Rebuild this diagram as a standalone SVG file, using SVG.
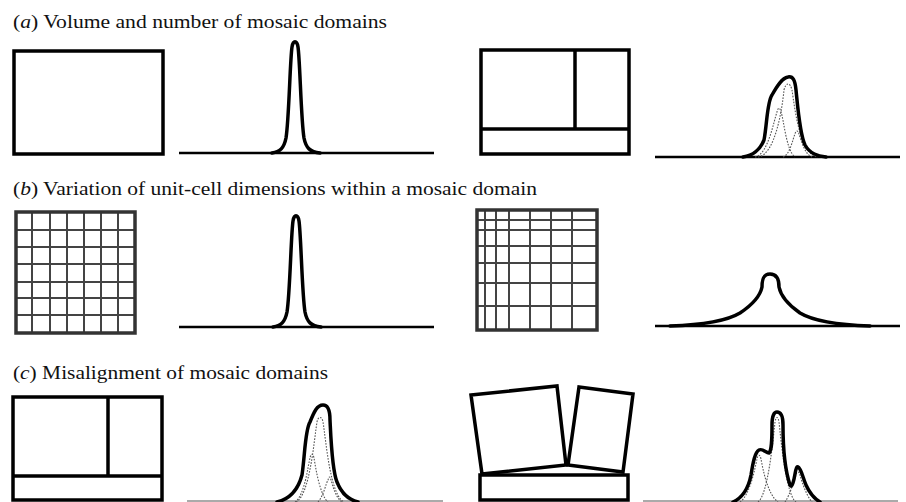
<svg xmlns="http://www.w3.org/2000/svg" width="906" height="502" viewBox="0 0 906 502">
<style>
.t{font-family:"Liberation Serif","Times New Roman",serif;font-size:19.5px;fill:#111}
.box{fill:none;stroke:#000;stroke-width:3.5;stroke-linejoin:miter}
.grid{fill:none;stroke:#444;stroke-width:2}
.gout{fill:none;stroke:#333;stroke-width:3.5}
.base{fill:none;stroke:#000;stroke-width:2.5}
.faint{fill:none;stroke:#aaa;stroke-width:2}
.pk{fill:none;stroke:#000;stroke-width:3.5;stroke-linejoin:round;stroke-linecap:round}
.dot{fill:none;stroke:#555;stroke-width:1.1;stroke-dasharray:1.6 1.4}
</style>
<rect width="906" height="502" fill="#fff"/>
<g id="labels">
<text class="t" x="13" y="28" textLength="374" lengthAdjust="spacingAndGlyphs">(<tspan font-style="italic">a</tspan>) Volume and number of mosaic domains</text>
<text class="t" x="13" y="195" textLength="524" lengthAdjust="spacingAndGlyphs">(<tspan font-style="italic">b</tspan>) Variation of unit-cell dimensions within a mosaic domain</text>
<text class="t" x="13" y="379" textLength="315" lengthAdjust="spacingAndGlyphs">(<tspan font-style="italic">c</tspan>) Misalignment of mosaic domains</text>
</g>
<g id="a-single-domain">
<rect class="box" x="14" y="51" width="149" height="103"/>
</g>
<g id="a-single-peak">
<line class="base" x1="179" y1="153" x2="434" y2="153"/>
<path class="pk" d="M272,153 C280,152 284,148 286,138 C289,120 290,60 292,47 C293,40 297,40 298,47 C300,60 301,120 304,138 C306,148 310,152 320,153"/>
</g>
<g id="a-three-domains">
<rect class="box" x="481" y="50" width="148" height="104"/>
<line class="box" x1="481" y1="129" x2="629" y2="129"/>
<line class="box" x1="575" y1="50" x2="575" y2="129"/>
</g>
<g id="a-composite-peak">
<line class="base" x1="655" y1="157" x2="900" y2="157"/>
<path class="dot" d="M758,157 C775,155 782,110 784,90 C786,82 790,82 792,90 C795,110 800,155 818,157"/>
<path class="dot" d="M755,157 C768,155 774,120 777,112 C778,107 780,107 781,112 C784,120 786,150 795,157"/>
<path class="dot" d="M783,157 C790,155 793,138 795,134 C796,130 798,130 799,134 C801,140 805,155 812,157"/>
<path class="pk" d="M743,157 C752,156 760,150 764,140 C767,125 767,102 772,95 C777,86 782,78 788,77 C793,76 795,80 796,90 C798,110 800,135 805,145 C810,154 818,156 826,157"/>
</g>
<g id="b-regular-grid">
<path class="grid" d="M32,212V333M50,212V333M67,212V333M84,212V333M101,212V333M118,212V333M16,230H135M16,247H135M16,264H135M16,282H135M16,298H135M16,315H135"/>
<rect class="gout" x="16" y="212" width="119" height="121"/>
</g>
<g id="b-sharp-peak">
<line class="base" x1="179" y1="327" x2="434" y2="327"/>
<path class="pk" transform="translate(1,174)" d="M272,153 C280,152 284,148 286,138 C289,120 290,60 292,47 C293,40 297,40 298,47 C300,60 301,120 304,138 C306,148 310,152 320,153"/>
</g>
<g id="b-graded-grid">
<path class="grid" d="M485,210V330M496,210V330M509,210V330M530,210V330M551,210V330M572,210V330M477,220H597M477,230H597M477,246H597M477,263H597M477,283H597M477,306H597"/>
<rect class="gout" x="477" y="210" width="120" height="120"/>
</g>
<g id="b-broad-peak">
<line class="base" x1="655" y1="326" x2="900" y2="326"/>
<path class="pk" d="M670,326 C700,325 725,322 740,313 C752,305 760,297 762,287 C762,278 764,274 770,274 C776,274 779,278 779,287 C781,297 790,306 800,313 C815,322 840,325 870,326"/>
</g>
<g id="c-aligned-domains">
<rect class="box" x="13" y="397" width="149" height="103"/>
<line class="box" x1="13" y1="476" x2="162" y2="476"/>
<line class="box" x1="108" y1="397" x2="108" y2="476"/>
</g>
<g id="c-aligned-peak">
<line class="faint" x1="187" y1="501" x2="443" y2="501"/>
<path class="dot" d="M296,502 C310,495 314,440 317,422 C318,416 322,416 323,422 C326,440 330,495 344,502"/>
<path class="dot" d="M295,502 C305,495 308,465 310,458 C311,453 313,453 314,458 C316,470 320,495 328,502"/>
<path class="dot" d="M318,502 C324,495 326,483 328,480 C329,476 330,476 331,480 C333,487 336,498 342,502"/>
<path class="pk" d="M277,502 C290,499 298,490 302,475 C305,455 305,430 310,422 C314,412 317,405 323,405 C328,405 330,410 330,420 C331,440 332,470 337,482 C342,495 350,500 358,502"/>
</g>
<g id="c-misaligned-domains">
<polygon class="box" points="471,395 557,386 566,465 482,474"/>
<polygon class="box" points="579,387 633,394 623,472 568,465"/>
<rect class="box" x="480" y="475" width="148" height="25"/>
</g>
<g id="c-split-peak">
<line class="faint" x1="643" y1="501" x2="898" y2="501"/>
<path class="dot" d="M758,502 C768,495 773,440 775,422 C776,416 778,416 779,422 C781,440 786,495 796,502"/>
<path class="dot" d="M740,502 C750,495 755,468 757,459 C758,454 760,454 761,459 C763,470 768,495 778,502"/>
<path class="dot" d="M785,502 C790,495 794,480 796,475 C797,471 799,471 800,475 C802,482 806,495 812,502"/>
<path class="pk" d="M733,502 C742,498 748,490 751,475 C753,462 755,452 759,450 C762,448 766,453 769,453 C772,450 772,440 772,425 C772,414 775,412 777,412 C781,412 783,415 783,425 C783,445 785,470 790,485 C792,489 794,480 795,474 C796,468 797,466 798,467 C801,468 803,478 806,485 C810,494 815,499 820,502"/>
</g>
</svg>
